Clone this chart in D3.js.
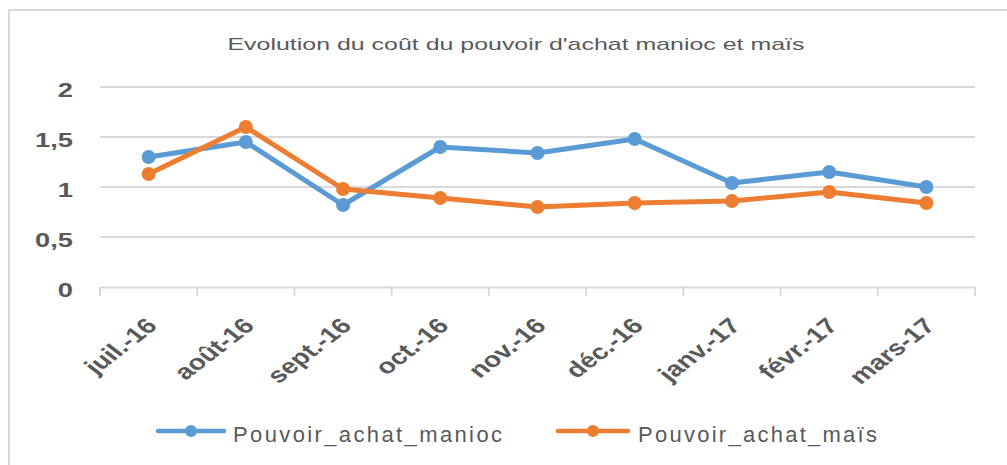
<!DOCTYPE html>
<html><head><meta charset="utf-8">
<script src="https://cdn.jsdelivr.net/npm/d3@7"></script>
<style>body{margin:0;background:#fff}svg{display:block}</style>
</head><body>
<svg id="c" width="1007" height="465"></svg>
<script>
const categories = ["juil.-16","août-16","sept.-16","oct.-16","nov.-16","déc.-16","janv.-17","févr.-17","mars-17"];
const manioc = [1.30,1.45,0.82,1.40,1.34,1.48,1.04,1.15,1.00];
const mais = [1.13,1.60,0.98,0.89,0.80,0.84,0.86,0.95,0.84];
const yTicks = [0,0.5,1,1.5,2];
const yTickLabels = ["0","0,5","1","1,5","2"];
const seriesNames = ["Pouvoir_achat_manioc","Pouvoir_achat_maïs"];
const colors = ["#5B9BD5","#ED7D31"];
const title = "Evolution du coût du pouvoir d'achat manioc et maïs";

const svg = d3.select("#c");
const txt = "#595959";
const sx = 1.3;
svg.append("rect").attr("x",9).attr("y",10).attr("width",1020).attr("height",480)
  .attr("fill","#fff").attr("stroke","#d9d9d9").attr("stroke-width",2);

svg.append("text").attr("x",516).attr("y",50).attr("text-anchor","middle")
  .attr("font-family","Liberation Sans Narrow, Liberation Sans, sans-serif").attr("font-size",17)
  .attr("fill",txt).attr("textLength",577).attr("lengthAdjust","spacingAndGlyphs").text(title);

const x = d3.scaleBand().domain(categories).range([100,975]);
const y = d3.scaleLinear().domain([0,2]).range([287,87]);

svg.append("g").selectAll("line").data(yTicks.slice(1)).join("line")
  .attr("x1",100).attr("x2",975).attr("y1",d=>y(d)).attr("y2",d=>y(d))
  .attr("stroke","#d9d9d9").attr("stroke-width",2);

// x axis
const xa = svg.append("g").attr("transform",`translate(0,${y(0)})`)
  .call(d3.axisBottom(x).tickSize(0).tickFormat(""));
xa.select(".domain").attr("stroke","#d9d9d9").attr("stroke-width",2);
const bounds = categories.map(c=>x(c)).concat([x.range()[1]]);
xa.selectAll("line.tk").data(bounds).join("line").attr("class","tk")
  .attr("x1",d=>d).attr("x2",d=>d).attr("y1",0).attr("y2",9)
  .attr("stroke","#d9d9d9").attr("stroke-width",2);

svg.selectAll("text.xl").data(categories).join("text").attr("class","xl")
  .attr("transform",d=>`translate(${x(d)+x.bandwidth()/2+10},${y(0)+40}) scale(${sx},1) rotate(-45)`)
  .attr("text-anchor","end").attr("font-family","Liberation Sans, sans-serif")
  .attr("font-weight","bold").attr("font-size",21.5).attr("fill",txt).text(d=>d);

// y labels
svg.selectAll("text.yl").data(yTicks).join("text").attr("class","yl")
  .attr("transform",d=>`translate(73,${y(d)+10}) scale(${sx},1)`).attr("text-anchor","end")
  .attr("font-family","Liberation Sans, sans-serif").attr("font-weight","bold")
  .attr("font-size",21).attr("fill",txt).text((d,i)=>yTickLabels[i]);

const line = d3.line().x((d,i)=>x(categories[i])+x.bandwidth()/2).y(d=>y(d));
[manioc,mais].forEach((s,k)=>{
  svg.append("path").datum(s).attr("d",line).attr("fill","none")
    .attr("stroke",colors[k]).attr("stroke-width",5).attr("stroke-linejoin","round");
  svg.selectAll(null).data(s).join("circle")
    .attr("cx",(d,i)=>x(categories[i])+x.bandwidth()/2).attr("cy",d=>y(d))
    .attr("r",7).attr("fill",colors[k]);
});

// legend
const leg = [{x0:158,x1:224,tx:233,w:269},{x0:558,x1:628,tx:638,w:239}];
leg.forEach((l,k)=>{
  svg.append("line").attr("x1",l.x0).attr("x2",l.x1).attr("y1",431).attr("y2",431)
    .attr("stroke",colors[k]).attr("stroke-width",4.5).attr("stroke-linecap","round");
  svg.append("circle").attr("cx",(l.x0+l.x1)/2).attr("cy",431).attr("r",6).attr("fill",colors[k]);
  svg.append("text").attr("x",l.tx).attr("y",442).attr("font-family","Liberation Sans Narrow, Liberation Sans, sans-serif")
    .attr("font-size",22).attr("fill",txt).attr("textLength",l.w).attr("lengthAdjust","spacing")
    .text(seriesNames[k]);
});
</script>
</body></html>
